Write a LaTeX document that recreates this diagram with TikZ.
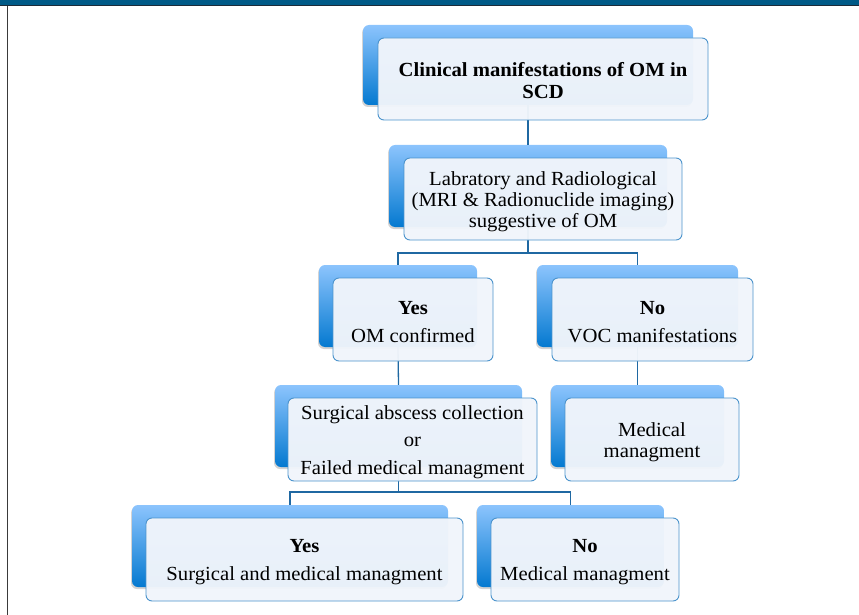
\documentclass[tikz,border=0pt]{standalone}
\usepackage{fontspec}
\setmainfont{Liberation Serif}[FakeStretch=1.035]
\usetikzlibrary{shadows}
\definecolor{topbar}{HTML}{005A87}
\definecolor{topline}{HTML}{1C2B38}
\definecolor{leftline}{HTML}{3A3A3A}
\definecolor{backtop}{HTML}{8CC4FD}
\definecolor{backmid}{HTML}{6AB0F4}
\definecolor{backbot}{HTML}{0479D0}
\definecolor{frontfill}{HTML}{F1F5FB}
\definecolor{frontline}{HTML}{4B93CC}
\definecolor{conn}{HTML}{1F68A2}
\tikzset{
  backbox/.style={rounded corners=6pt, top color=backtop, middle color=backmid, bottom color=backbot,
    draw=none, inner sep=0pt, minimum height=82pt,
    drop shadow={shadow xshift=-1pt, shadow yshift=-2pt, opacity=0.35}},
  frontbox/.style={rounded corners=6pt, draw=frontline, line width=0.9pt, fill=frontfill,
    fill opacity=0.965, inner sep=0pt, minimum height=83pt},
  lbl/.style={align=center, inner sep=0pt, font=\fontsize{20}{21.2}\selectfont, yshift=-2.5pt},
  connector/.style={draw=conn, line width=1.3pt}
}
\begin{document}
\begin{tikzpicture}[x=1pt,y=-1pt]
\useasboundingbox (0,0) rectangle (859,615);
% frame
\fill[topbar] (0,0) rectangle (859,5.5);
\draw[topline, line width=1pt] (0,6) -- (859,6);
\draw[leftline, line width=1.5pt] (7.5,6) -- (7.5,615);

% back boxes
\node[backbox, minimum width=330pt, minimum height=80pt] (b1s) at (528,65) {};
\node[backbox, minimum width=278pt] (b2s) at (528,186) {};
\node[backbox, minimum width=158pt] (yess) at (398,306) {};
\node[backbox, minimum width=201pt] (nos) at (637.5,306) {};
\node[backbox, minimum width=247pt] (surgs) at (398.5,426) {};
\node[backbox, minimum width=173pt] (meds) at (637.5,426) {};
\node[backbox, minimum width=316pt] (yes2s) at (290,546) {};
\node[backbox, minimum width=187pt] (no2s) at (570.5,546) {};

% connectors
\coordinate (j1) at (528,253);
\coordinate (j2) at (398.5,492);
\draw[connector] (b1s.south) -- (b2s.north);
\draw[connector] (b2s.south) -- (j1) -| (yess.north);
\draw[connector] (j1) -| (nos.north);
\draw[connector] (yess.south) -- (surgs.north);
\draw[connector] (nos.south) -- (meds.north);
\draw[connector] (surgs.south) -- (j2) -| (yes2s.north);
\draw[connector] (j2) -| (no2s.north);

% front boxes
\node[frontbox, minimum width=330pt, minimum height=82pt] (b1) at (543,79) {};
\node[frontbox, minimum width=278pt, minimum height=82pt] (b2) at (543,199) {};
\node[frontbox, minimum width=160pt] (yes) at (413,319.5) {};
\node[frontbox, minimum width=201pt] (no) at (652.5,319.5) {};
\node[frontbox, minimum width=249pt] (surg) at (412.5,439.5) {};
\node[frontbox, minimum width=174pt] (med) at (652,439.5) {};
\node[frontbox, minimum width=317pt] (yes2) at (304.5,559.5) {};
\node[frontbox, minimum width=188pt] (no2) at (585,559.5) {};

% texts
\node[lbl, yshift=1pt] (b1t) at (b1.center)
  {\textbf{Clinical manifestations of OM in}\\\textbf{SCD}};
\node[lbl] (b2t) at (b2.center)
  {Labratory and Radiological\\(MRI \& Radionuclide imaging)\\suggestive of OM};
\node[lbl] (yest) at (yes.center) {\textbf{Yes}\\[6.5pt]OM confirmed};
\node[lbl] (not) at (no.center) {\textbf{No}\\[6.5pt]VOC manifestations};
\node[lbl] (surgt) at (surg.center)
  {Surgical abscess collection\\[6.5pt]or\\[6.5pt]Failed medical managment};
\node[lbl] (medt) at (med.center) {Medical\\managment};
\node[lbl] (yes2t) at (yes2.center) {\textbf{Yes}\\[6.5pt]Surgical and medical managment};
\node[lbl] (no2t) at (no2.center) {\textbf{No}\\[6.5pt]Medical managment};
\end{tikzpicture}
\end{document}
